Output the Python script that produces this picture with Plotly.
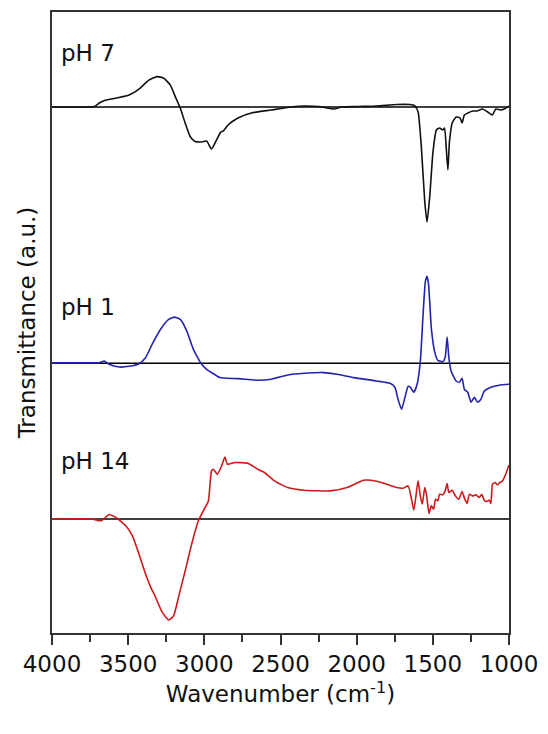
import plotly.graph_objects as go

# Difference spectra, wavenumber (cm-1) vs. signal relative to each baseline (a.u.)
wn_ph7 = [4000, 3850, 3722, 3690, 3646, 3560, 3494, 3429, 3364, 3310, 3267, 3223, 3191, 3158,
          3126, 3093, 3061, 3018, 2985, 2953, 2920, 2891, 2875, 2844, 2779, 2692, 2562, 2432,
          2345, 2250, 2150, 2100, 1990, 1868, 1737, 1651, 1619, 1597, 1575, 1553, 1538, 1521,
          1499, 1477, 1456, 1434, 1423, 1412, 1401, 1391, 1373, 1347, 1321, 1308, 1293, 1270,
          1239, 1210, 1174, 1140, 1109, 1087, 1055, 1025, 1000]
sig_ph7 = [0.0, 0.0, 0.005, 0.04, 0.07, 0.095, 0.12, 0.18, 0.27, 0.305, 0.29, 0.22, 0.105, -0.01,
           -0.16, -0.295, -0.345, -0.35, -0.34, -0.42, -0.33, -0.25, -0.24, -0.18, -0.11, -0.06, -0.03, 0.0,
           0.01, 0.005, -0.02, 0.0, 0.005, 0.01, 0.025, 0.025, 0.013, -0.047, -0.41, -0.95, -1.154, -0.91,
           -0.45, -0.23, -0.21, -0.23, -0.21, -0.41, -0.63, -0.35, -0.16, -0.10, -0.11, -0.16, -0.08, -0.06,
           -0.04, -0.04, -0.02, -0.05, -0.08, -0.02, -0.03, -0.015, 0.01]

wn_ph1 = [4000, 3800, 3690, 3657, 3625, 3560, 3494, 3429, 3386, 3343, 3288, 3234, 3195, 3158,
          3115, 3072, 3018, 2985, 2953, 2898, 2850, 2779, 2649, 2562, 2453, 2345, 2215, 2128,
          2020, 1868, 1781, 1749, 1727, 1705, 1683, 1662, 1647, 1625, 1603, 1582, 1564, 1549,
          1538, 1528, 1510, 1489, 1467, 1434, 1419, 1406, 1395, 1380, 1347, 1326, 1308, 1293,
          1271, 1249, 1228, 1206, 1184, 1163, 1119, 1065, 1000]
sig_ph1 = [0.005, 0.005, 0.006, 0.023, -0.01, -0.037, -0.03, -0.004, 0.056, 0.19, 0.34, 0.44, 0.463, 0.44,
           0.323, 0.14, -0.01, -0.06, -0.093, -0.143, -0.15, -0.153, -0.17, -0.16, -0.117, -0.10, -0.093, -0.11,
           -0.143, -0.177, -0.20, -0.24, -0.37, -0.46, -0.34, -0.23, -0.24, -0.29, -0.21, 0.023, 0.49, 0.82,
           0.873, 0.79, 0.356, 0.123, 0.03, 0.017, 0.06, 0.263, 0.06, -0.077, -0.177, -0.19, -0.15, -0.26,
           -0.29, -0.39, -0.34, -0.39, -0.36, -0.28, -0.24, -0.22, -0.21]

wn_ph14 = [4000, 3733, 3679, 3625, 3581, 3516, 3472, 3429, 3386, 3353, 3321, 3278, 3234, 3202,
           3169, 3126, 3083, 3039, 3007, 2974, 2953, 2941, 2915, 2887, 2865, 2848, 2800, 2714,
           2649, 2605, 2540, 2453, 2345, 2172, 2063, 1954, 1868, 1803, 1738, 1694, 1662, 1640,
           1625, 1612, 1597, 1582, 1569, 1553, 1542, 1525, 1510, 1495, 1482, 1467, 1456, 1434,
           1419, 1406, 1395, 1373, 1352, 1330, 1308, 1293, 1275, 1260, 1239, 1217, 1195, 1178,
           1163, 1147, 1130, 1119, 1108, 1091, 1076, 1061, 1043, 1022, 1000]
sig_ph14 = [0.0, 0.0, -0.017, 0.043, 0.017, -0.067, -0.167, -0.35, -0.55, -0.68, -0.78, -0.93, -1.01, -0.97,
            -0.78, -0.52, -0.25, -0.017, 0.083, 0.18, 0.483, 0.50, 0.45, 0.533, 0.623, 0.55, 0.567, 0.56,
            0.50, 0.467, 0.383, 0.317, 0.29, 0.283, 0.317, 0.39, 0.38, 0.35, 0.317, 0.31, 0.333, 0.2,
            0.09, 0.217, 0.383, 0.233, 0.15, 0.317, 0.25, 0.057, 0.133, 0.1, 0.2, 0.183, 0.25, 0.243,
            0.283, 0.357, 0.267, 0.29, 0.233, 0.2, 0.277, 0.21, 0.157, 0.25, 0.233, 0.243, 0.217, 0.25,
            0.19, 0.177, 0.19, 0.157, 0.35, 0.367, 0.343, 0.367, 0.383, 0.45, 0.543]

# Vertical offset (stacking baseline) of each spectrum
labels = ["pH 7", "pH 1", "pH 14"]
offsets = [5.274, 2.704, 1.142]
colors = ["#111111", "#2323b0", "#cc1a1a"]
label_y = [5.82, 3.27, 1.72]

x_ticks = [4000, 3500, 3000, 2500, 2000, 1500, 1000]

FONT = "DejaVu Sans, Arial, sans-serif"

fig = go.Figure()
series = [(wn_ph7, sig_ph7), (wn_ph1, sig_ph1), (wn_ph14, sig_ph14)]
for (wn, sig), off, col, lab in zip(series, offsets, colors, labels):
    # baseline
    fig.add_trace(go.Scatter(x=[4000, 1000], y=[off, off], mode="lines",
                             line=dict(color="#000000", width=1.5),
                             hoverinfo="skip", showlegend=False))
    fig.add_trace(go.Scatter(x=wn, y=[off + v for v in sig], mode="lines", name=lab,
                             line=dict(color=col, width=1.6, shape="spline", smoothing=0.5),
                             showlegend=False))

for lab, ly in zip(labels, label_y):
    fig.add_annotation(x=0.016, xref="paper", y=ly, yref="y", text=lab, showarrow=False,
                       xanchor="left", yanchor="middle",
                       font=dict(family=FONT, size=23, color="#111111"))

fig.update_layout(
    width=548, height=734,
    margin=dict(l=52, r=34, t=10, b=101),
    paper_bgcolor="white", plot_bgcolor="white",
    font=dict(family=FONT, size=23, color="#111111"),
    xaxis=dict(
        range=[4000, 1000], tickvals=x_ticks, ticktext=[str(t) for t in x_ticks],
        ticks="outside", ticklen=10, tickwidth=1.5, tickcolor="#333333",
        minor=dict(dtick=250, tick0=1000, ticks="outside", ticklen=7, tickwidth=1.5, tickcolor="#333333"),
        showline=True, linecolor="#333333", linewidth=1.5, mirror=True,
        showgrid=False, zeroline=False,
        title=dict(text="Wavenumber (cm<sup>-1</sup>)", standoff=10, font=dict(size=23)),
        tickfont=dict(size=23),
    ),
    yaxis=dict(
        range=[0, 6.227], showticklabels=False, ticks="",
        showline=True, linecolor="#333333", linewidth=1.5, mirror=True,
        showgrid=False, zeroline=False,
        title=dict(text="Transmittance (a.u.)", standoff=8, font=dict(size=23)),
    ),
)

fig.write_html("out.html")
